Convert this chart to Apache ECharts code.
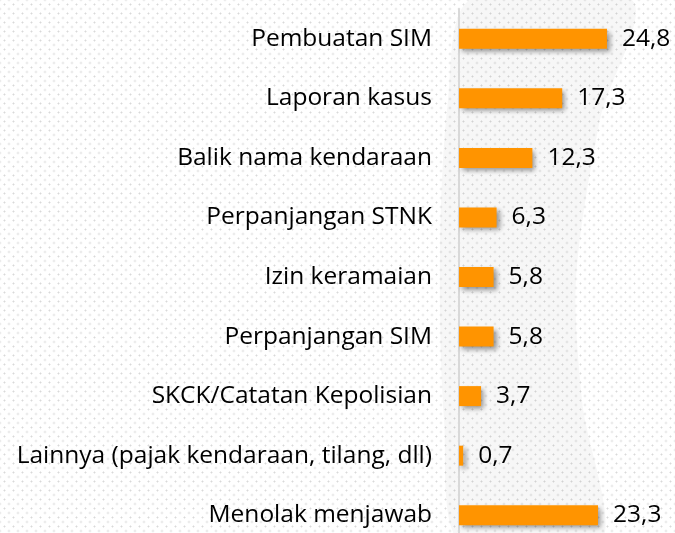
<!DOCTYPE html>
<html>
<head>
<meta charset="utf-8">
<script src="https://cdn.jsdelivr.net/npm/echarts@6/dist/echarts.min.js"></script>
<style>
html,body{margin:0;padding:0;background:#ffffff;overflow:hidden;width:675px;height:533px;}
#bg{position:absolute;left:0;top:0;width:675px;height:533px;
background-image:radial-gradient(circle, #d9d9d9 0.8px, rgba(255,255,255,0) 1.2px),radial-gradient(circle, #d9d9d9 0.8px, rgba(255,255,255,0) 1.2px);
background-size:9px 9px, 9px 9px;background-position:0 0, 4.5px 4.5px;}
#chart{position:absolute;left:0;top:0;width:675px;height:545px;}
</style>
</head>
<body>
<div id="bg"></div>
<div id="chart"></div>
<script>
const categories = [
  'Pembuatan SIM',
  'Laporan kasus',
  'Balik nama kendaraan',
  'Perpanjangan STNK',
  'Izin keramaian',
  'Perpanjangan SIM',
  'SKCK/Catatan Kepolisian',
  'Lainnya (pajak kendaraan, tilang, dll)',
  'Menolak menjawab'
];
const values = [24.8, 17.3, 12.3, 6.3, 5.8, 5.8, 3.7, 0.7, 23.3];

const chart = echarts.init(document.getElementById('chart'), null, {renderer: 'canvas'});
const fontFamily = '"Open Sans", sans-serif';
chart.setOption({
  backgroundColor: 'transparent',
  animation: false,
  graphic: [{
    type: 'polygon',
    z: -10,
    silent: true,
    shape: {
      points: [[470,0],[632,0],[600,120],[576,280],[582,400],[600,545],[462,545],[444,420],[440,250],[448,100]],
      smooth: 0.3
    },
    style: {fill: 'rgba(0,0,0,0.03)'}
  }],
  grid: {left: 459, top: 9, width: 179, height: 536, containLabel: false},
  xAxis: {
    type: 'value', min: 0, max: 30,
    show: false
  },
  yAxis: {
    type: 'category',
    data: categories,
    inverse: true,
    axisLine: {show: true, lineStyle: {color: '#d9d9d9', width: 2}},
    axisTick: {show: false},
    axisLabel: {color: '#000000', fontSize: 24.5, fontFamily: fontFamily, margin: 27}
  },
  series: [{
    type: 'bar',
    data: values,
    barWidth: 20,
    itemStyle: {
      color: '#ff9400',
      shadowColor: 'rgba(0,0,0,0.4)',
      shadowBlur: 5,
      shadowOffsetX: 3,
      shadowOffsetY: 3
    },
    label: {
      show: true,
      position: 'right',
      distance: 15,
      color: '#000000',
      fontSize: 24.5,
      fontFamily: fontFamily,
      formatter: p => String(p.value).replace('.', ',')
    }
  }]
});
</script>
</body>
</html>
